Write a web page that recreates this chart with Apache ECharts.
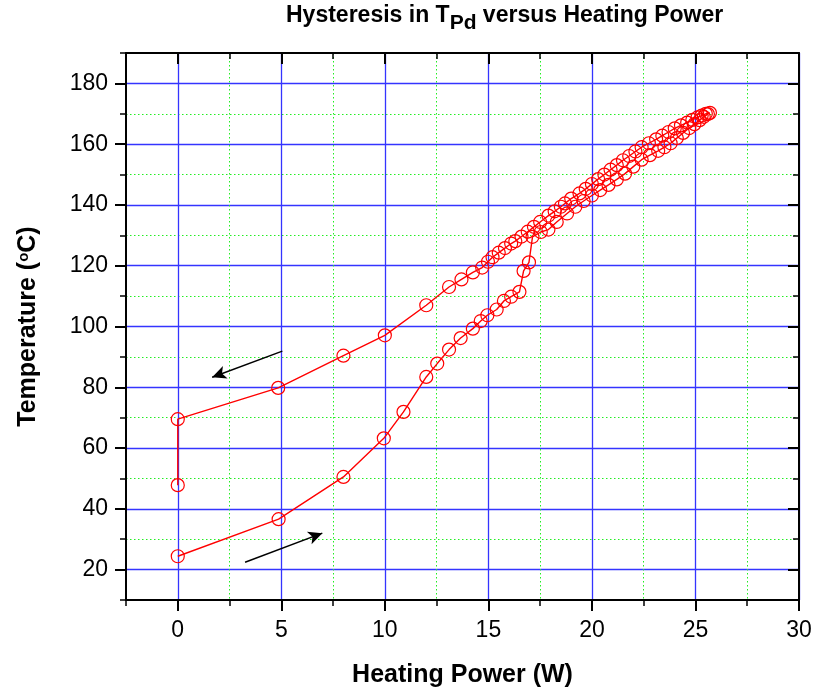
<!DOCTYPE html>
<html>
<head>
<meta charset="utf-8">
<script src="https://cdn.jsdelivr.net/npm/echarts@6/dist/echarts.min.js"></script>
<style>
	html, body { margin: 0; padding: 0; background: #fff; }
	#container { width: 813px; height: 691px; }
</style>
</head>
<body>
<div id="container"></div>
<script>
'use strict';

// heating branch (lower curve, going up)
var heatPower = [0, 4.87, 8.0, 9.95, 10.9, 12.0, 12.53, 13.1, 13.66, 14.25, 14.63, 14.95, 15.4, 15.75, 16.1, 16.5, 16.7, 16.96,
	17.13, 17.53, 17.9, 18.3, 18.8, 19.2, 19.6, 20.0, 20.4, 20.8, 21.2, 21.6, 22.0, 22.4, 22.8, 23.2, 23.5, 23.8, 24.1,
	24.4, 24.7, 24.95, 25.2, 25.4, 25.6];
var heatTemp = [24.4, 36.6, 50.5, 63.2, 71.9, 83.4, 87.8, 92.4, 96.2, 99.3, 101.8, 103.7, 105.6, 108.4, 109.8, 111.4, 118.3, 121.1,
	129.5, 131.1, 131.9, 134.4, 137.2, 139.4, 141.3, 143.1, 144.9, 146.6, 148.4, 150.3, 152.6, 154.9, 156.4, 157.8, 159.0, 160.3, 162.0,
	163.7, 165.3, 166.6, 167.9, 169.0, 169.9];

// cooling branch (upper curve, going down)
var coolPower = [25.7, 25.5, 25.3, 25.1, 24.85, 24.6, 24.3, 24.0, 23.7, 23.4, 23.1, 22.75, 22.4, 22.1, 21.8, 21.5, 21.2, 20.9,
	20.6, 20.3, 20.0, 19.7, 19.4, 19.0, 18.7, 18.5, 18.2, 17.9, 17.5, 17.2, 16.9, 16.6, 16.3, 16.1, 15.8, 15.5, 15.2, 14.98,
	14.7, 14.25, 13.7, 13.1, 12.0, 10.0, 8.0, 4.85, 0, 0];
var coolTemp = [170.3, 170.0, 169.4, 168.8, 168.0, 167.1, 166.2, 165.2, 164.0, 162.8, 161.6, 160.3, 159.0, 157.6, 156.1, 154.7, 153.1, 151.6,
	150.0, 148.5, 146.9, 145.3, 143.8, 142.1, 140.5, 139.4, 137.9, 136.5, 134.4, 132.8, 131.2, 129.6, 128.1, 127.3, 125.8, 124.3, 122.8, 121.3,
	119.4, 117.8, 115.5, 113.0, 107.0, 97.1, 90.4, 79.8, 69.5, 47.8];

// axis ticks
var xMajor = [0, 5, 10, 15, 20, 25, 30];
var yMajor = [20, 40, 60, 80, 100, 120, 140, 160, 180];

// arrows [from, to] in data units
var arrowCool = [[5.05, 91.9], [1.66, 83.3]];
var arrowHeat = [[3.25, 22.4], [6.98, 32.0]];

var BLUE = '#3434ff';
var GREEN = '#22ee22';
var FONT = '"Liberation Sans", Arial, sans-serif';

function zip(xs, ys) {
	var res = [];
	for (var i = 0; i < xs.length; i++) {
		res.push([xs[i], ys[i]]);
	}
	return res;
}

// kind: 'minor' (line + small ticks), 'major' (long ticks only), 'grid' (dotted green lines only)
function axisDef(dim, pos, kind, extra) {
	var isX = dim === 'x';
	var ax = {
		type: 'value', position: pos,
		min: isX ? -2.5 : 10,
		max: isX ? 30 : 190,
		interval: isX ? (kind === 'grid' ? 5 : 2.5) : (kind === 'grid' ? 20 : 10),
		axisLine: { show: kind === 'minor', onZero: false, lineStyle: { color: '#000', width: 2 } },
		axisTick: { show: kind !== 'grid', inside: pos === 'top' || pos === 'right',
			length: kind === 'major' ? 11 : 6,
			lineStyle: { color: '#000', width: kind === 'major' ? 2 : 1.5 } },
		axisLabel: { show: false },
		splitLine: { show: false }
	};
	if (kind === 'major') ax.axisTick.customValues = isX ? xMajor : yMajor;
	if (kind === 'grid') ax.splitLine = { show: true, lineStyle: { color: GREEN, width: 1, type: [1.5, 2.5] } };
	return Object.assign(ax, extra || {});
}

var dom = document.getElementById('container');
var myChart = echarts.init(dom, null, { renderer: 'canvas' });

var option = {
	animation: false,
	backgroundColor: '#fff',
	title: {
		text: '{a|Hysteresis in T}{s|Pd}{a| versus Heating Power}',
		left: 286,
		top: 4,
		padding: 0,
		textStyle: {
			rich: {
				a: { fontFamily: FONT, fontWeight: 'bold', fontSize: 23, color: '#000', lineHeight: 30, verticalAlign: 'top' },
				s: { fontFamily: FONT, fontWeight: 'bold', fontSize: 21, color: '#000', lineHeight: 30, verticalAlign: 'bottom', padding: [16, 0, 0, 0] }
			}
		}
	},
	grid: { left: 126, right: 14, top: 53, bottom: 91, containLabel: false, outerBoundsMode: 'none' },
	xAxis: [
		axisDef('x', 'bottom', 'grid'),
		axisDef('x', 'bottom', 'minor', {
			name: 'Heating Power (W)',
			nameLocation: 'middle',
			nameGap: 63,
			nameTextStyle: { fontFamily: FONT, fontWeight: 'bold', fontSize: 25, color: '#000' },
			axisLabel: {
				show: true, fontFamily: FONT, fontSize: 23, color: '#000', margin: 19,
				formatter: function(v) { return xMajor.indexOf(v) >= 0 ? String(v) : ''; }
			},
			splitLine: { show: true, lineStyle: { color: ['rgba(0,0,0,0)', BLUE], width: 1.3, type: 'solid' } }
		}),
		axisDef('x', 'bottom', 'major'),
		axisDef('x', 'top', 'minor'),
		axisDef('x', 'top', 'major')
	],
	yAxis: [
		axisDef('y', 'left', 'grid'),
		axisDef('y', 'left', 'minor', {
			name: '{a|Temperature (}{o|o}{a|C)}',
			nameLocation: 'middle',
			nameGap: 80,
			nameRotate: 90,
			nameTextStyle: {
				rich: {
					a: { fontFamily: FONT, fontWeight: 'bold', fontSize: 25, color: '#000', lineHeight: 30, verticalAlign: 'top' },
					o: { fontFamily: FONT, fontWeight: 'bold', fontSize: 15, color: '#000', lineHeight: 20, verticalAlign: 'top' }
				}
			},
			axisLabel: {
				show: true, fontFamily: FONT, fontSize: 23, color: '#000', margin: 18,
				formatter: function(v) { return yMajor.indexOf(v) >= 0 ? String(v) : ''; }
			},
			splitLine: { show: true, lineStyle: { color: ['rgba(0,0,0,0)', BLUE], width: 1.3, type: 'solid' } }
		}),
		axisDef('y', 'left', 'major'),
		axisDef('y', 'right', 'minor'),
		axisDef('y', 'right', 'major')
	],
	series: [{
		name: 'heating',
		type: 'line',
		xAxisIndex: 1,
		yAxisIndex: 1,
		data: zip(heatPower, heatTemp),
		symbol: 'circle',
		symbolSize: 13,
		showAllSymbol: true,
		lineStyle: { color: '#ff0000', width: 1.4 },
		itemStyle: { color: 'rgba(255,255,255,0)', borderColor: '#ff0000', borderWidth: 1.2 },
		emphasis: { disabled: true },
		silent: true,
		z: 5,
		markLine: {
			silent: true,
			symbol: ['none', 'arrow'],
			symbolSize: [10, 14],
			label: { show: false },
			lineStyle: { color: '#000', width: 1.5, type: 'solid' },
			data: [
				[{ coord: arrowCool[0] }, { coord: arrowCool[1] }],
				[{ coord: arrowHeat[0] }, { coord: arrowHeat[1] }]
			]
		}
	}, {
		name: 'cooling',
		type: 'line',
		xAxisIndex: 1,
		yAxisIndex: 1,
		data: zip(coolPower, coolTemp),
		symbol: 'circle',
		symbolSize: 13,
		showAllSymbol: true,
		lineStyle: { color: '#ff0000', width: 1.4 },
		itemStyle: { color: 'rgba(255,255,255,0)', borderColor: '#ff0000', borderWidth: 1.2 },
		emphasis: { disabled: true },
		silent: true,
		z: 5
	}]
};

myChart.setOption(option, true);
</script>
</body>
</html>
